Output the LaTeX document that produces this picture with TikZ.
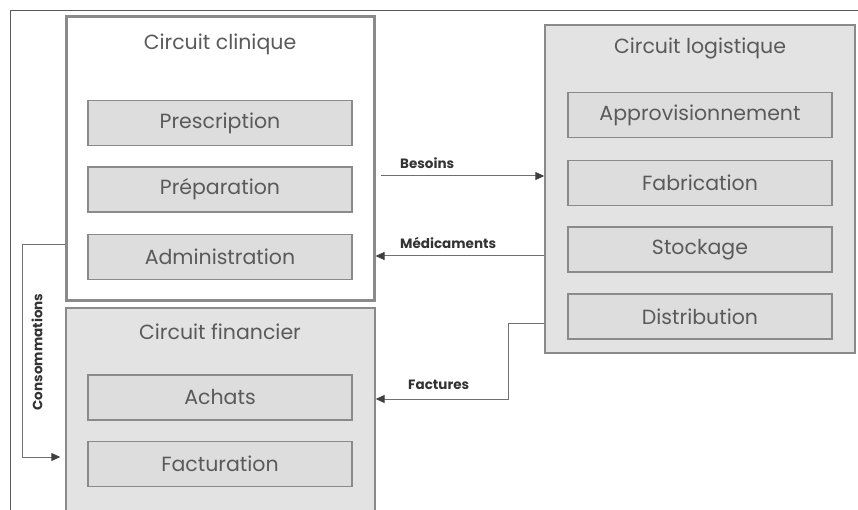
\documentclass[tikz,border=0pt]{standalone}
\usepackage{fontspec}
\setmainfont{Poppins}
\usetikzlibrary{arrows.meta,positioning}
\definecolor{edge}{HTML}{8A8A8A}
\definecolor{panel}{HTML}{E3E3E3}
\definecolor{cell}{HTML}{DDDDDD}
\definecolor{ink}{HTML}{5A5A5A}
\definecolor{wire}{HTML}{707070}
\tikzset{
  circuit/.style={draw=edge, line width=1.4pt, fill=panel, inner sep=0pt},
  cellbox/.style={draw=edge, line width=1.2pt, fill=cell, minimum width=264pt,
    minimum height=45pt, inner sep=0pt, text=ink, font=\fontsize{20.5}{24}\selectfont},
  titletext/.style={text=ink, font=\fontsize{20.5}{24}\selectfont},
  flowlabel/.style={text=black!80, font=\bfseries\fontsize{13.5}{16}\selectfont, inner sep=0pt},
  flow/.style={draw=wire, line width=1pt, -{Triangle[length=9pt,width=8pt,color=black!75]}},
}
\begin{document}
\begin{tikzpicture}[x=1pt,y=-1pt]
\useasboundingbox (0,0) rectangle (858,510);
\clip (0,0) rectangle (858,510);
% page frame (top and left rules)
\draw[draw=black!65, line width=0.8pt] (10,512) -- (10,10) -- (860,10);

% clinical circuit
\node[circuit, fill=white, line width=3pt, minimum width=308pt, minimum height=283pt] (clin) at (220,158.5) {};
\node[titletext] (clinT) at (220,44) {Circuit clinique};
\node[cellbox] (presc) at (220,123) {Prescription};
\node[cellbox] (prep) at (220,189.5) {Préparation};
\node[cellbox] (admin) at (220,257) {Administration};

% financial circuit
\node[circuit, minimum width=309pt, minimum height=220pt] (fin) at (220.5,418) {};
\node[titletext] (finT) at (220,332) {Circuit financier};
\node[cellbox] (achat) at (220,397.5) {Achats};
\node[cellbox] (factu) at (220,464) {Facturation};

% logistics circuit
\node[circuit, minimum width=310pt, minimum height=328pt] (logi) at (700,189) {};
\node[titletext] (logiT) at (700,48) {Circuit logistique};
\node[cellbox] (appro) at (700,115) {Approvisionnement};
\node[cellbox] (fabr) at (700,183) {Fabrication};
\node[cellbox] (stock) at (700,249.5) {Stockage};
\node[cellbox] (distr) at (700,316.5) {Distribution};

% flows
\coordinate (bs) at (381,176);
\draw[flow] (bs) -- (logi.west |- bs);
\node[flowlabel, anchor=west] (bsL) at (400,163) {Besoins};

\coordinate (md) at (545,256);
\draw[flow] (logi.west |- md) -- (clin.east |- md);
\node[flowlabel, anchor=west] (mdL) at (400,243) {Médicaments};

\coordinate (fa1) at (508,323);
\coordinate (fa2) at (508,399);
\draw[flow] (logi.west |- fa1) -- (fa1) -- (fa2) -- (fin.east |- fa2);
\node[flowlabel, anchor=west] (faL) at (408,385) {Factures};

\coordinate (co1) at (22,245);
\coordinate (co2) at (22,457);
\draw[flow, shorten >=5pt] (clin.west |- co1) -- (co1) -- (co2) -- (fin.west |- co2);
\node[flowlabel, rotate=90] (coL) at (37,352) {Consommations};
\end{tikzpicture}
\end{document}
